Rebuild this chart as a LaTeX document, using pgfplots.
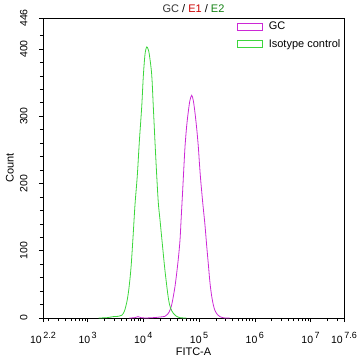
\documentclass[border=0pt]{standalone}
\usepackage{pgfplots}
\pgfplotsset{compat=1.18}
\usepackage{fontspec}
\setmainfont{Liberation Sans}
\definecolor{gcmag}{RGB}{204,40,214}
\definecolor{isogreen}{RGB}{60,214,60}
\definecolor{titlered}{RGB}{204,0,0}
\definecolor{titlegreen}{RGB}{20,130,20}
\newcommand{\tp}[1]{10\raisebox{0.45em}{\fontsize{9}{10}\selectfont\,#1}}
\begin{document}
\begin{tikzpicture}
\begin{axis}[
  scale only axis, width=301pt, height=300pt,
  xmin=2.2, xmax=7.6, ymin=0, ymax=446,
  axis line style={line width=0.8pt},
  tick pos=left, tick align=outside,
  major tick length=4pt, minor tick length=3pt,
  tick style={black, line width=0.6pt},
  xtick={2.2,3,4,5,6,7,7.6},
  xticklabels={\tp{2.2},\tp{3},\tp{4},\tp{5},\tp{6},\tp{7},\tp{7.6}},
  minor xtick={2.301,2.477,2.602,2.699,2.778,2.845,2.903,2.954,
    3.301,3.477,3.602,3.699,3.778,3.845,3.903,3.954,
    4.301,4.477,4.602,4.699,4.778,4.845,4.903,4.954,
    5.301,5.477,5.602,5.699,5.778,5.845,5.903,5.954,
    6.301,6.477,6.602,6.699,6.778,6.845,6.903,6.954,
    7.301,7.477},
  ytick={0,100,200,300,400,446},
  minor ytick={20,40,60,80,120,140,160,180,220,240,260,280,320,340,360,380,420},
  /pgf/number format/assume math mode=true,
  ticklabel style={font=\fontsize{10.5}{12}\selectfont},
  yticklabel style={rotate=90, anchor=south},
  yticklabel shift=8pt,
  xticklabel shift=7pt,
  xlabel={FITC-A}, ylabel={Count},
  label style={font=\fontsize{11}{13}\selectfont},
  xlabel style={at={(axis description cs:0.5,-0.113)}, anchor=center},
  ylabel style={at={(axis description cs:-0.11,0.5)}, anchor=center},
  title={\textcolor{black!80}{GC} / \textcolor{titlered}{E1} / \textcolor{titlegreen}{E2}},
  title style={font=\fontsize{11}{13}\selectfont, at={(axis description cs:0.5,1)}, anchor=south, yshift=-4pt},
  legend style={at={(axis description cs:0.637,1)}, anchor=north west, draw=none, fill=none,
    font=\fontsize{11}{13}\selectfont, row sep=4pt, inner sep=2pt},
  legend cell align=left,
  legend image code/.code={\draw[#1, line width=0.9pt] (0pt,-3.5pt) rectangle (25pt,3.5pt); \path (29pt,0pt);},
]
\addplot[gcmag, line width=0.8pt, smooth, tension=0.5] coordinates {
 (3.75,0) (3.85,0.5) (3.904,2) (3.96,0.5) (4.03,0) (4.12,0.3) (4.21,0.7) (4.30,1.5) (4.389,2.5)
 (4.44,6) (4.48,12) (4.51,20) (4.538,32) (4.57,48) (4.599,67) (4.63,90) (4.658,116)
 (4.68,150) (4.706,190) (4.728,225) (4.748,255) (4.777,285) (4.807,307) (4.835,323)
 (4.868,331) (4.897,323) (4.927,305) (4.957,282) (4.986,255) (5.008,228) (5.029,205)
 (5.065,172) (5.106,138) (5.136,108) (5.166,80) (5.196,52) (5.227,32) (5.257,19)
 (5.286,11) (5.33,5) (5.375,2) (5.42,0.6) (5.465,0) (5.55,0)
};
\addlegendentry{GC}
\addplot[isogreen, line width=0.8pt, smooth, tension=0.5] coordinates {
 (3.20,0) (3.35,0.5) (3.456,2) (3.55,2.5) (3.612,4) (3.66,10) (3.707,25) (3.743,45)
 (3.779,75) (3.815,120) (3.850,168) (3.892,212) (3.928,262) (3.971,314) (4.000,360)
 (4.030,392) (4.060,403) (4.084,400) (4.107,392) (4.150,362) (4.179,314) (4.209,262)
 (4.240,212) (4.269,171) (4.300,145) (4.335,115) (4.389,70) (4.448,30) (4.487,15)
 (4.538,7) (4.586,3) (4.658,0.5) (4.77,0)
};
\addlegendentry{Isotype control}
\end{axis}
\pgfresetboundingbox
\path (current axis.south west) ++(-43pt,-43pt) rectangle ([xshift=14pt,yshift=18pt]current axis.north east);
\end{tikzpicture}
\end{document}
